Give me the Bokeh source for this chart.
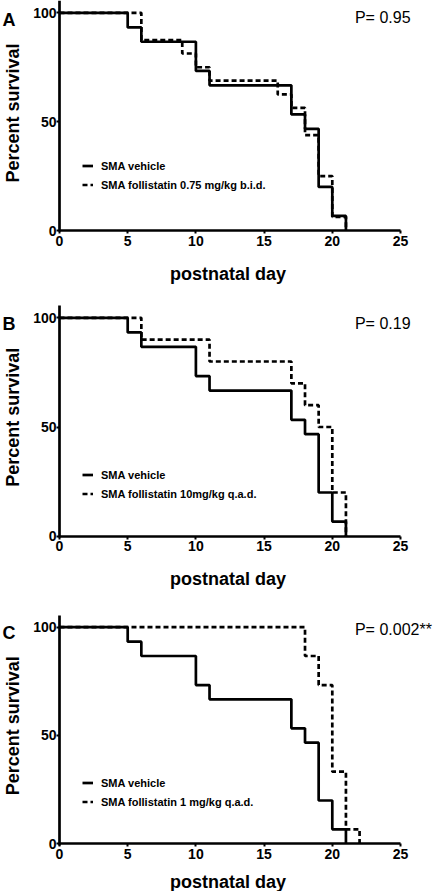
import math
from bokeh.plotting import figure
from bokeh.models import Range1d, FixedTicker, Label, Legend, LegendItem
from bokeh.layouts import column
from bokeh.embed import file_html
from bokeh.resources import INLINE

# ---- data (Kaplan-Meier survival, percent) ----
veh_days = [0, 5, 6, 10, 11, 17, 18, 19, 20, 21]
veh_surv = [100, 93.3, 86.7, 73.3, 66.7, 53.3, 46.7, 20, 6.7, 0]

fa_days = [0, 6, 9, 10, 11, 16, 17, 18, 19, 20, 21]
fa_surv = [100, 87.5, 81.3, 75, 68.8, 62.5, 56.3, 43.8, 25, 6.3, 0]

fb_days = [0, 6, 11, 17, 18, 19, 20, 21]
fb_surv = [100, 90, 80, 70, 60, 50, 20, 0]

fc_days = [0, 18, 19, 20, 21, 22]
fc_surv = [100, 86.7, 73.3, 33.3, 6.7, 0]

panel_letters = ["A", "B", "C"]
p_values = ["P= 0.95", "P= 0.19", "P= 0.002**"]
vehicle_label = "SMA vehicle"
treat_labels = ["SMA follistatin 0.75 mg/kg b.i.d.",
                "SMA follistatin 10mg/kg q.a.d.",
                "SMA follistatin 1 mg/kg q.a.d."]
x_ticks = [0, 5, 10, 15, 20, 25]
y_ticks = [0, 50, 100]
x_label = "postnatal day"
y_label = "Percent survival"

FONT = "Liberation Sans"
LW = 2.7
FIG_W = 437
X0, X1 = -4.325, 27.713          # x range across the full figure width


def make_panel(letter, ptext, fdays, fsurv, flabel, height, y_lo, y_hi,
               letter_y, p_y, ylab_y, xlab_y, legend_y):
    p = figure(width=FIG_W, height=height, title=None,
               x_range=Range1d(X0, X1), y_range=Range1d(y_lo, y_hi),
               output_backend="svg", toolbar_location=None,
               min_border=0, min_border_left=0, min_border_right=0,
               min_border_top=0, min_border_bottom=0)
    p.outline_line_color = None
    p.xgrid.grid_line_color = None
    p.ygrid.grid_line_color = None
    p.background_fill_color = "white"
    p.border_fill_color = "white"

    xa, ya = p.xaxis[0], p.yaxis[0]
    xa.fixed_location = 0
    ya.fixed_location = 0
    xa.bounds = (0, 25)
    ya.bounds = (-0.6, 105.5)
    for ax, ticks in ((xa, x_ticks), (ya, y_ticks)):
        ax.ticker = FixedTicker(ticks=ticks)
        ax.axis_line_width = LW
        ax.axis_line_color = "black"
        ax.major_tick_line_width = 2
        ax.major_tick_line_color = "black"
        ax.major_tick_out = 3
        ax.major_tick_in = 0
        ax.minor_tick_line_color = None
        ax.major_label_text_font = FONT
        ax.major_label_text_font_style = "bold"
        ax.major_label_text_font_size = "14px"
        ax.major_label_text_color = "black"
    xa.major_label_standoff = 2
    ya.major_label_standoff = 0

    r_f = p.step(fdays, fsurv, mode="after", line_color="black",
                 line_width=LW, line_dash="5 3")
    r_v = p.step(veh_days, veh_surv, mode="after", line_color="black",
                 line_width=LW)

    legend = Legend(items=[LegendItem(label=vehicle_label, renderers=[r_v]),
                           LegendItem(label=flabel, renderers=[r_f])],
                    location=(82, legend_y), padding=0, margin=0, spacing=0,
                    glyph_width=11, glyph_height=19, label_height=19,
                    label_standoff=8, border_line_color=None,
                    background_fill_alpha=0,
                    label_text_font=FONT, label_text_font_style="bold",
                    label_text_font_size="11px", label_text_color="black")
    p.add_layout(legend)

    common = dict(text_font=FONT, text_color="black")
    p.add_layout(Label(x=-4.18, y=letter_y, text=letter, text_font_style="bold",
                       text_font_size="18px", text_align="left",
                       text_baseline="alphabetic", **common))
    p.add_layout(Label(x=21.66, y=p_y, text=ptext, text_font_size="16px",
                       text_align="left", text_baseline="alphabetic", **common))
    p.add_layout(Label(x=-3.42, y=ylab_y, text=y_label, angle=math.pi / 2,
                       text_font_style="bold", text_font_size="18px",
                       text_align="center", text_baseline="alphabetic", **common))
    p.add_layout(Label(x=12.35, y=xlab_y, text=x_label,
                       text_font_style="bold", text_font_size="18px",
                       text_align="center", text_baseline="alphabetic", **common))
    return p


# panel A: page rows 0..300, y=0 at 230, 2.177 px/unit
pa = make_panel(panel_letters[0], p_values[0], fa_days, fa_surv, treat_labels[0],
                300, -32.15, 105.65, 96.5, 97.7, 54.0, -20.2, 106)
# panel B: page rows 300..590, y=0 at 535.7, 2.184 px/unit
pb = make_panel(panel_letters[1], p_values[1], fb_days, fb_surv, treat_labels[1],
                290, -24.86, 107.92, 97.25, 97.25, 54.5, -19.6, 87)
# panel C: page rows 590..891, y=0 at 843.3, 2.166 px/unit
pc = make_panel(panel_letters[2], p_values[2], fc_days, fc_surv, treat_labels[2],
                301, -22.02, 116.94, 97.5, 98.9, 54.5, -17.8, 80)

layout = column(pa, pb, pc, spacing=0)
open("out.html", "w").write(file_html(layout, INLINE))
